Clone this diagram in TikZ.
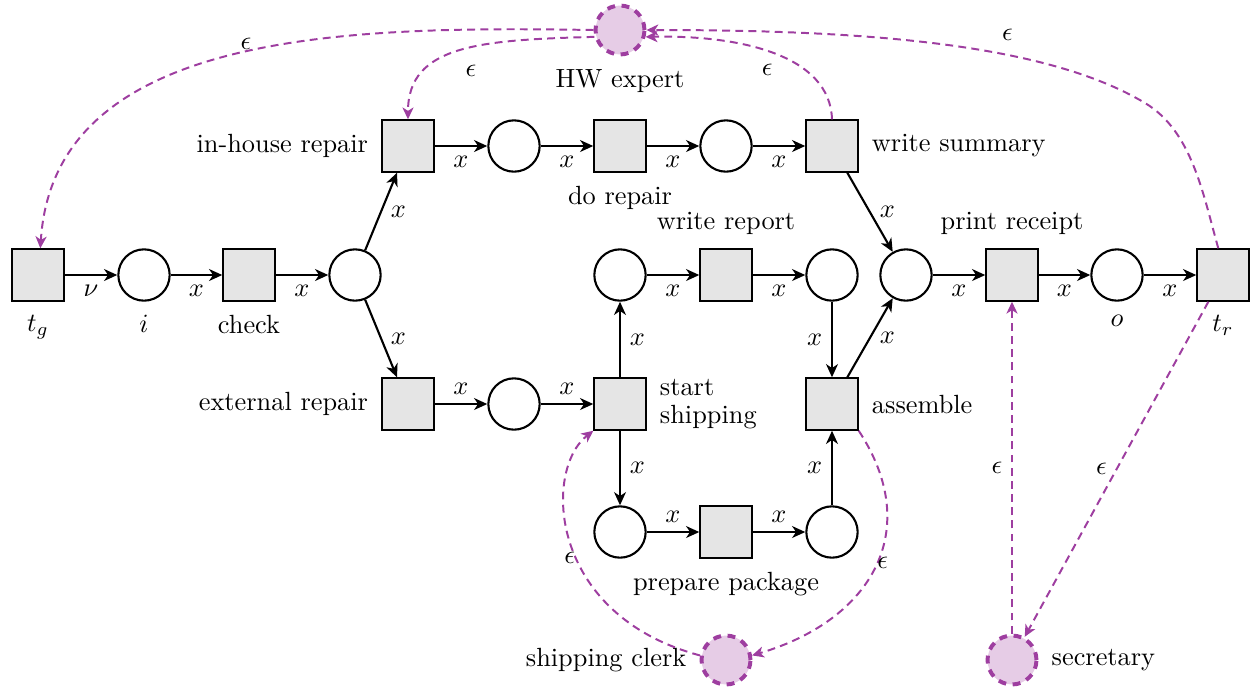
\documentclass[tikz,border=0pt]{standalone}
\usetikzlibrary{arrows.meta}
\definecolor{resc}{RGB}{158,62,160}
\definecolor{resfill}{RGB}{230,204,230}
\begin{document}
\begin{tikzpicture}[x=0.01335cm, y=-0.01335cm,
  label distance=1.5pt,
  trans/.style={draw=black, thick, fill=black!10, minimum size=19.5pt, inner sep=0pt},
  place/.style={draw=black, thick, circle, minimum size=19.5pt, inner sep=0pt},
  res/.style={circle, draw=resc, fill=resfill, line width=1.5pt,
    dash pattern=on 3pt off 2.5pt, minimum size=18.6pt, inner sep=0pt},
  arc/.style={thick, -{Stealth[length=5pt, width=4.5pt, inset=1.5pt]}},
  rarc/.style={draw=resc, line width=0.75pt, dash pattern=on 3pt off 2pt,
    -{Stealth[length=4.5pt, width=4.2pt, inset=1.3pt]}},
  eps/.style={inner sep=0pt}]
\useasboundingbox (0,0) rectangle (1258,693);

% transitions and places
\node[trans, label={below:$t_g$}] (tg) at (38,275) {};
\node[place, label={below:$i$}] (i) at (144,275) {};
\node[trans, label={below:check}] (check) at (249,275) {};
\node[place] (split) at (355,275) {};
\node[trans, label={left:in-house repair}] (inh) at (408,146) {};
\node[place] (pa) at (514,146) {};
\node[trans, label={below:do repair}] (dorep) at (620,146) {};
\node[place] (pb) at (726,146) {};
\node[trans, label={right:write summary}] (wsum) at (832,146) {};
\node[place] (join) at (906,275) {};
\node[trans, label={above:print receipt}] (prec) at (1012,275) {};
\node[place, label={below:$o$}] (o) at (1117,275) {};
\node[trans, label={below:$t_r$}] (tr) at (1223,275) {};
\node[trans, label={left:external repair}] (ext) at (408,404) {};
\node[place] (pc) at (514,404) {};
\node[trans, label={[align=left]right:{start\\[-1.4pt]shipping}}] (ship) at (620,404) {};
\node[place] (pd) at (620,275) {};
\node[trans, label={above:write report}] (wrep) at (726,275) {};
\node[place] (pe) at (832,275) {};
\node[trans, label={right:assemble}] (asm) at (832,404) {};
\node[place] (pf) at (620,532) {};
\node[trans, label={below:prepare package}] (prep) at (726,532) {};
\node[place] (pg) at (832,532) {};

% resources
\node[res, label={below:HW expert}] (hw) at (620,30) {};
\node[res, label={left:shipping clerk}] (clerk) at (726,660) {};
\node[res, label={right:secretary}] (sec) at (1012,660) {};

% control flow
\draw[arc] (tg) -- node[below]{$\nu$} (i);
\draw[arc] (i) -- node[below]{$x$} (check);
\draw[arc] (check) -- node[below]{$x$} (split);
\draw[arc] (split) -- node[right]{$x$} (inh);
\draw[arc] (split) -- node[right]{$x$} (ext);
\draw[arc] (inh) -- node[below]{$x$} (pa);
\draw[arc] (pa) -- node[below]{$x$} (dorep);
\draw[arc] (dorep) -- node[below]{$x$} (pb);
\draw[arc] (pb) -- node[below]{$x$} (wsum);
\draw[arc] (wsum) -- node[right]{$x$} (join);
\draw[arc] (join) -- node[below]{$x$} (prec);
\draw[arc] (prec) -- node[below]{$x$} (o);
\draw[arc] (o) -- node[below]{$x$} (tr);
\draw[arc] (ext) -- node[above]{$x$} (pc);
\draw[arc] (pc) -- node[above]{$x$} (ship);
\draw[arc] (ship) -- node[right]{$x$} (pd);
\draw[arc] (pd) -- node[below]{$x$} (wrep);
\draw[arc] (wrep) -- node[below]{$x$} (pe);
\draw[arc] (pe) -- node[left]{$x$} (asm);
\draw[arc] (asm) -- node[right]{$x$} (join);
\draw[arc] (ship) -- node[right]{$x$} (pf);
\draw[arc] (pf) -- node[above]{$x$} (prep);
\draw[arc] (prep) -- node[above]{$x$} (pg);
\draw[arc] (pg) -- node[left]{$x$} (asm);

% resource flow
\draw[rarc] (hw.west) .. controls (350,26) and (54,30) .. (tg.85)
  node[pos=.48, eps, xshift=0.9pt, yshift=3.2pt]{$\epsilon$};
\draw[rarc] (hw.195) .. controls (480,40) and (408,45) .. (inh.north)
  node[pos=.45, eps, xshift=1pt, yshift=-8.4pt]{$\epsilon$};
\draw[rarc] (wsum.north) .. controls (830,55) and (740,35) .. (hw.345)
  node[pos=.53, eps, yshift=-7.2pt]{$\epsilon$};
\draw[rarc] (tr.100) .. controls (1203,194) and (1192,131) .. (1145,103)
  .. controls (1042,41) and (850,30) .. (hw.east)
  node[pos=.35, eps, yshift=7.6pt]{$\epsilon$};
\draw[rarc] (clerk.170) .. controls (548,615) and (543,470) .. (ship.south west)
  node[pos=.45, eps, xshift=-2.3pt, yshift=-0.6pt]{$\epsilon$};
\draw[rarc] (asm.south east) .. controls (924,530) and (872,620) .. (clerk.10)
  node[pos=.5, eps, xshift=3pt, yshift=1.5pt]{$\epsilon$};
\draw[rarc] (sec) -- node[left]{$\epsilon$} (prec);
\draw[rarc] (tr) -- node[left]{$\epsilon$} (sec);
\end{tikzpicture}
\end{document}
